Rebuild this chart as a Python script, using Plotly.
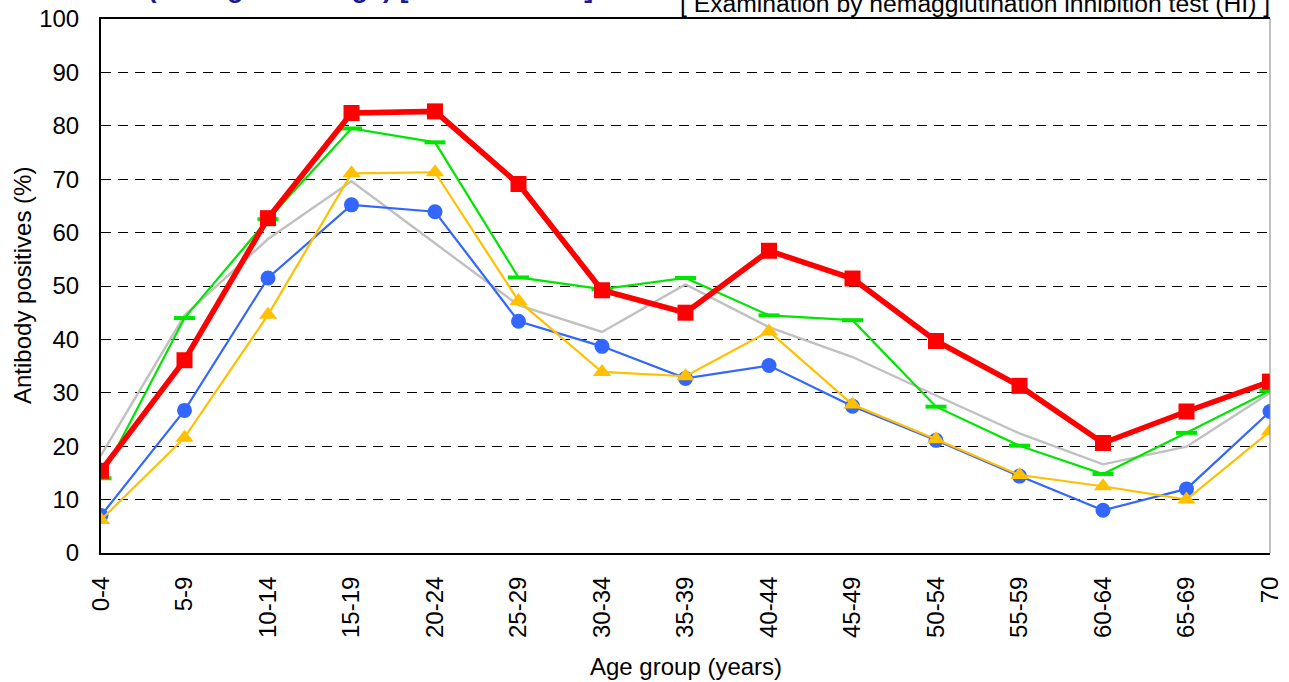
import plotly.graph_objects as go

age_groups = ["0-4", "5-9", "10-14", "15-19", "20-24", "25-29", "30-34", "35-39",
              "40-44", "45-49", "50-54", "55-59", "60-64", "65-69", "70"]

gray_vals = [18.3, 44.5, 58.8, 69.6, 58.0, 46.4, 41.4, 50.3, 42.3, 36.7, 29.5, 22.4, 16.6, 19.9, 30.0]
blue_vals = [7.0, 26.7, 51.5, 65.2, 63.9, 43.4, 38.7, 32.7, 35.1, 27.5, 21.1, 14.4, 8.0, 12.0, 26.5]
yellow_vals = [6.2, 21.6, 44.6, 71.1, 71.3, 47.2, 33.9, 33.1, 41.5, 27.8, 21.3, 14.6, 12.5, 10.0, 22.8]
green_vals = [14.0, 44.0, 62.5, 79.5, 76.9, 51.6, 49.4, 51.5, 44.5, 43.6, 27.4, 20.1, 14.8, 22.5, 30.4]
red_vals = [15.4, 36.1, 62.7, 82.4, 82.7, 69.1, 49.2, 45.0, 56.6, 51.4, 39.7, 31.3, 20.6, 26.5, 32.1]

y_ticks = list(range(0, 101, 10))
x_title = "Age group (years)"
y_title = "Antibody positives (%)"
left_title = "Influenza B (Yamagata lineage) [ 2018 season ]"
right_title = "[ Examination by hemagglutination inhibition test (HI) ]"

xs = list(range(len(age_groups)))
FONT = "Liberation Sans, Arial, sans-serif"
FS = 24

fig = go.Figure()
fig.add_trace(go.Scatter(x=xs, y=gray_vals, mode="lines",
                         line=dict(color="#c0c0c0", width=2.4), showlegend=False))
fig.add_trace(go.Scatter(x=xs, y=blue_vals, mode="lines+markers",
                         line=dict(color="#3366ff", width=2.2),
                         marker=dict(symbol="circle", size=15, color="#3366ff"), showlegend=False))
fig.add_trace(go.Scatter(x=xs, y=yellow_vals, mode="lines+markers",
                         line=dict(color="#ffc000", width=2.2),
                         marker=dict(symbol="triangle-up", size=16, color="#ffc000"), showlegend=False))
fig.add_trace(go.Scatter(x=xs, y=green_vals, mode="lines+markers",
                         line=dict(color="#00e600", width=2.2),
                         marker=dict(symbol="line-ew", size=15, color="#00e600",
                                     line=dict(color="#00e600", width=4)), showlegend=False))
fig.add_trace(go.Scatter(x=xs, y=red_vals, mode="lines+markers",
                         line=dict(color="#ff0000", width=5.5),
                         marker=dict(symbol="square", size=16, color="#ff0000"), showlegend=False))

fig.update_layout(
    width=1289, height=682,
    margin=dict(l=101, r=19, t=19, b=129),
    paper_bgcolor="white", plot_bgcolor="white",
    font=dict(family=FONT, size=FS, color="black"),
    xaxis=dict(range=[0, 14], tickmode="array", tickvals=xs, ticktext=age_groups,
               tickangle=-90, showgrid=False, zeroline=False, automargin=False,
               showline=True, linecolor="black", linewidth=2, mirror=True,
               ticks="outside", ticklen=12, tickcolor="rgba(0,0,0,0)",
               tickfont=dict(size=FS, family=FONT, color="black")),
    yaxis=dict(range=[0, 100], tickmode="array", tickvals=y_ticks,
               showgrid=True, gridcolor="black", griddash="10px,7px", gridwidth=1,
               zeroline=False, automargin=False,
               showline=True, linecolor="black", linewidth=2, mirror=False,
               ticks="outside", ticklen=15, tickcolor="rgba(0,0,0,0)",
               tickfont=dict(size=FS, family=FONT, color="black")),
    shapes=[dict(type="line", xref="paper", yref="paper", x0=1, x1=1, y0=0, y1=1,
                 line=dict(color="#808080", width=1))],
    annotations=[
        dict(text=x_title, xref="paper", yref="paper", x=0.5, y=0,
             xanchor="center", yanchor="middle", yshift=-113, showarrow=False,
             font=dict(size=FS, family=FONT, color="black")),
        dict(text=y_title, xref="paper", yref="paper", x=0, y=0.5, textangle=-90,
             xanchor="center", yanchor="middle", xshift=-79, showarrow=False,
             font=dict(size=FS, family=FONT, color="black")),
        dict(text=right_title, xref="paper", yref="paper", x=1, y=1,
             xanchor="right", yanchor="bottom", yshift=0, xshift=2, showarrow=False,
             font=dict(size=24.7, family=FONT, color="black")),
        dict(text="<b>" + left_title + "</b>", xref="paper", yref="paper", x=0, y=1,
             xanchor="left", yanchor="bottom", yshift=14, xshift=-107, showarrow=False,
             font=dict(size=27, family=FONT, color="#1a1a8c")),
    ],
)

fig.write_html("out.html", config={"displayModeBar": False},
               post_script="document.body.style.margin='0';")
